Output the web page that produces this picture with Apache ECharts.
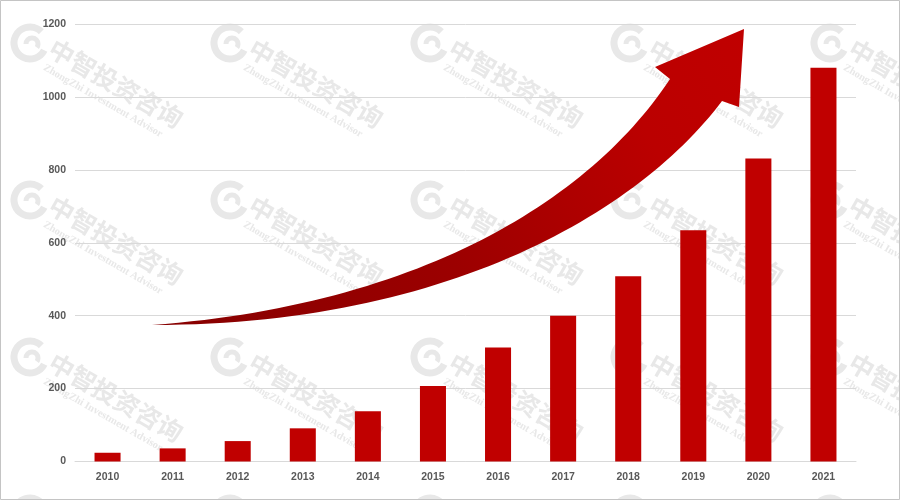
<!DOCTYPE html>
<html>
<head>
<meta charset="utf-8">
<script src="https://cdn.jsdelivr.net/npm/echarts@6/dist/echarts.min.js"></script>
<style>html,body{margin:0;padding:0;background:#fff}#c{width:900px;height:500px}</style>
</head>
<body>
<div id="c"></div>
<script>
var years = ['2010','2011','2012','2013','2014','2015','2016','2017','2018','2019','2020','2021'];
var values = [24, 36, 56, 91, 138, 207, 313, 400, 508, 634, 831, 1080];
var yTicks = [0, 200, 400, 600, 800, 1000, 1200];

var chart = echarts.init(document.getElementById('c'));

var wmColor = '#e8e8e8';
var elements = [];
var cols = [30, 230, 430, 630, 830];
var rows = [43, 200, 357, 514];
rows.forEach(function (cy) {
  cols.forEach(function (cx) {
    elements.push({
      type: 'arc', z: -10, silent: true,
      shape: { cx: cx, cy: cy, r: 16, startAngle: Math.PI * 0.15, endAngle: Math.PI * 1.75 },
      style: { stroke: wmColor, lineWidth: 7, fill: null }
    });
    elements.push({
      type: 'arc', z: -10, silent: true,
      shape: { cx: cx + 2, cy: cy + 1, r: 6, startAngle: Math.PI * 1.0, endAngle: Math.PI * 2.2 },
      style: { stroke: wmColor, lineWidth: 5, fill: null }
    });
    elements.push({
      type: 'text', z: -10, silent: true, x: cx + 21, y: cy + 3, rotation: -Math.PI / 6,
      style: { text: '中智投资咨询', fill: wmColor, font: 'bold 25px "Noto Sans CJK SC"', align: 'left', verticalAlign: 'middle' }
    });
    elements.push({
      type: 'text', z: -10, silent: true, x: cx + 14, y: cy + 24, rotation: -Math.PI / 6,
      style: { text: 'ZhongZhi Investment Advisor', fill: wmColor, font: 'bold 10.5px "Liberation Serif"', align: 'left', verticalAlign: 'middle' }
    });
  });
});

// decorative rising arrow: sample cubic curves into a polygon outline
function cubic(p0, p1, p2, p3, n) {
  var pts = [];
  for (var i = 0; i <= n; i++) {
    var t = i / n, u = 1 - t;
    pts.push([
      u*u*u*p0[0] + 3*u*u*t*p1[0] + 3*u*t*t*p2[0] + t*t*t*p3[0],
      u*u*u*p0[1] + 3*u*u*t*p1[1] + 3*u*t*t*p2[1] + t*t*t*p3[1]
    ]);
  }
  return pts;
}
var upper = cubic([152,325],[420,305],[590,200],[670,79], 60);
var lower = cubic([722,101],[640,210],[450,325],[152,325], 60);
var arrowPts = upper.concat([[655,67],[744,29],[739,107]]).concat(lower);
elements.push({
  type: 'polygon', z: 10, silent: true,
  shape: { points: arrowPts },
  style: {
    fill: new echarts.graphic.LinearGradient(0, 1, 1, 0, [
      { offset: 0, color: '#860000' },
      { offset: 0.45, color: '#9c0000' },
      { offset: 0.8, color: '#bb0000' },
      { offset: 1, color: '#c00000' }
    ])
  }
});

// outer border
elements.push({
  type: 'rect', z: 20, silent: true,
  shape: { x: 0.5, y: 0.5, width: 899, height: 499 },
  style: { stroke: '#c4c4c4', lineWidth: 1, fill: null }
});

chart.setOption({
  animation: false,
  backgroundColor: '#ffffff',
  grid: { left: 75, right: 44, top: 24, bottom: 38.5 },
  xAxis: {
    type: 'category',
    data: years,
    axisLine: { show: true, lineStyle: { color: '#d9d9d9', width: 1 } },
    axisTick: { show: false },
    axisLabel: { color: '#595959', fontSize: 10.5, fontWeight: 'bold', fontFamily: 'Liberation Sans', margin: 10 }
  },
  yAxis: {
    type: 'value',
    min: yTicks[0],
    max: yTicks[yTicks.length - 1],
    interval: yTicks[1] - yTicks[0],
    axisLine: { show: false },
    axisTick: { show: false },
    splitLine: { lineStyle: { color: '#d9d9d9', width: 1 } },
    axisLabel: {
      color: '#595959', fontSize: 10.5, fontWeight: 'bold', fontFamily: 'Liberation Sans', margin: 9,
      formatter: function (v) { return String(v); }
    }
  },
  graphic: { elements: elements },
  series: [{
    type: 'bar',
    data: values,
    barWidth: '40%',
    itemStyle: { color: '#c00000' },
    z: 5
  }]
});
</script>
</body>
</html>
